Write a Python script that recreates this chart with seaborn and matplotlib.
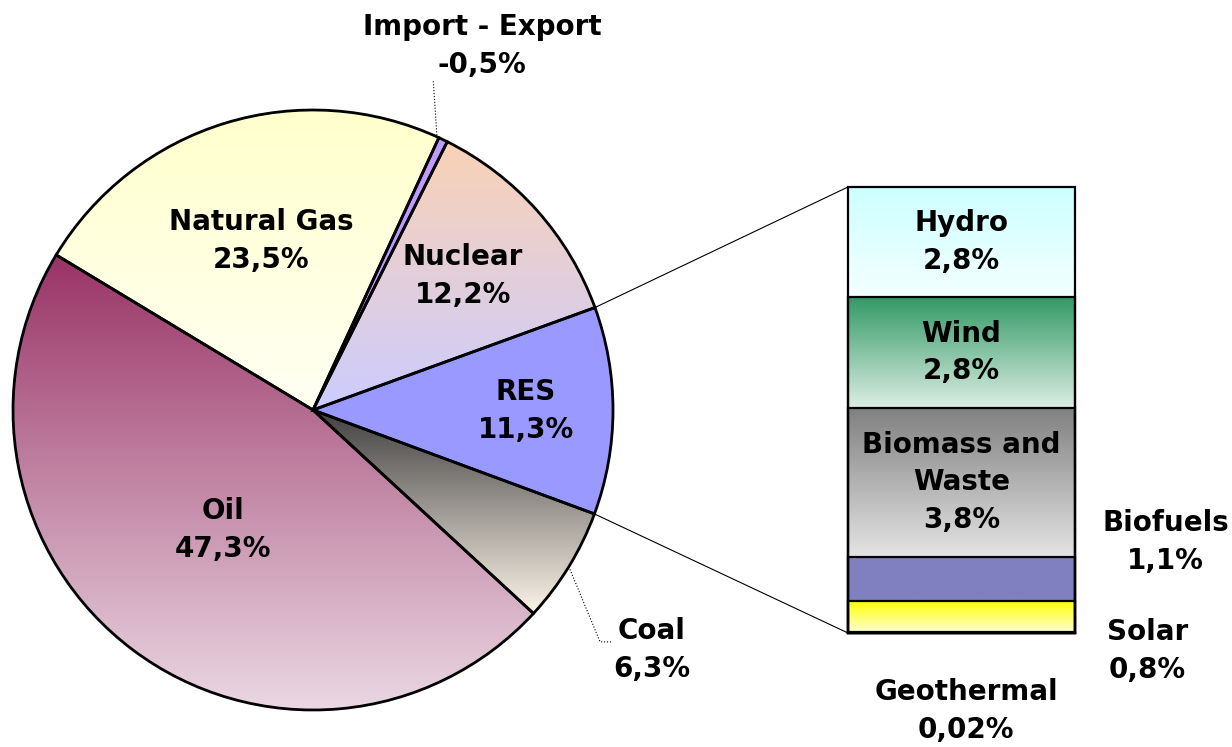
import numpy as np
import seaborn as sns
import matplotlib.pyplot as plt
from matplotlib.colors import to_rgb
from matplotlib.patches import ConnectionPatch

sns.set_theme(style="white")
plt.rcParams['font.family'] = ['DejaVu Sans']
plt.rcParams['text.color'] = 'black'

# pie data
pie_labels = ["Coal", "RES", "Nuclear", "Import - Export", "Natural Gas", "Oil"]
pie_values = [6.3, 11.3, 12.2, 0.5, 23.5, 47.3]
pie_texts = ["6,3%", "11,3%", "12,2%", "-0,5%", "23,5%", "47,3%"]
# vertical gradient (top, bottom) per slice
pie_top = ["#404040", "#9999FF", "#FAD2B5", "#C09AFF", "#FFFFCC", "#993366"]
pie_bottom = ["#FCF3E8", "#9999FF", "#CCCCFF", "#C09AFF", "#FFFFF4", "#EAD8E3"]

# RES breakdown (bottom to top)
res_labels = ["Geothermal", "Solar", "Biofuels", "Biomass and\nWaste", "Wind", "Hydro"]
res_values = [0.02, 0.8, 1.1, 3.8, 2.8, 2.8]
res_texts = ["0,02%", "0,8%", "1,1%", "3,8%", "2,8%", "2,8%"]
res_top = ["#FFFF66", "#FFFF00", "#8080C0", "#808080", "#339966", "#CCFFFF"]
res_bottom = ["#FFFFCC", "#FFFFD0", "#8080C0", "#E4E4E4", "#DCEEE4", "#F4FFFF"]


def gradient(top, bottom, n=256):
    t = np.linspace(0, 1, n)[:, None]
    img = (1 - t) * np.array(to_rgb(top)) + t * np.array(to_rgb(bottom))
    return img[:, None, :]


W, H = 1232, 747
fig = plt.figure(figsize=(W / 100, H / 100), dpi=100)

# ---- pie ----
cx, cy, r = 313, 410, 300
ax = fig.add_axes([(cx - r) / W, (H - cy - r) / H, 2 * r / W, 2 * r / H])
wedges, _ = ax.pie(pie_values, startangle=-42.7, counterclock=True,
                   wedgeprops=dict(edgecolor="black", linewidth=2.0, facecolor="none"))
for w, top, bot in zip(wedges, pie_top, pie_bottom):
    bb = w.get_path().get_extents()
    im = ax.imshow(gradient(top, bot), extent=(bb.x0, bb.x1, bb.y0, bb.y1),
                   origin="upper", aspect="auto", zorder=0.5, interpolation="bilinear")
    im.set_clip_path(w)
    w.set_zorder(2)
ax.set_xlim(-1, 1)
ax.set_ylim(-1, 1)
ax.set_aspect("equal")
ax.axis("off")

txt = dict(fontsize=20, fontweight="bold", ha="center", va="center", linespacing=1.45)
inner_r = {"RES": 0.71, "Nuclear": 0.67, "Natural Gas": 0.59, "Oil": 0.50}
for w, name, pct in zip(wedges, pie_labels, pie_texts):
    mid = np.deg2rad((w.theta1 + w.theta2) / 2)
    if name in inner_r:
        d = inner_r[name]
        ax.text(d * np.cos(mid), d * np.sin(mid), name + "\n" + pct, zorder=5, **txt)
    elif name == "Coal":
        x0, y0 = np.cos(mid), np.sin(mid)
        ax.plot([x0, 0.957, 0.997], [y0, -0.773, -0.773], ls=":", color="black",
                lw=0.8, clip_on=False)
        ax.text(1.13, -0.80, name + "\n" + pct, zorder=5, clip_on=False, **txt)
    else:
        x0, y0 = np.cos(mid), np.sin(mid)
        ax.plot([x0 - 0.02, x0 - 0.033], [y0 + 0.005, y0 + 0.2], ls=":", color="black",
                lw=0.8, clip_on=False)
        ax.text(0.563, 1.213, name + "\n" + pct, zorder=5, clip_on=False, **txt)

# ---- RES bar ----
bx0, bx1, by0, by1 = 848, 1075, 187, 633
bax = fig.add_axes([bx0 / W, (H - by1) / H, (bx1 - bx0) / W, (by1 - by0) / H])
cum = np.cumsum(res_values)
bottoms = cum - np.array(res_values)
order = np.argsort(-cum)
sns.barplot(x=["RES"] * len(cum), y=cum[order], hue=[res_labels[i] for i in order],
            hue_order=[res_labels[i] for i in order], dodge=False, width=1.0,
            palette=["white"] * len(cum), legend=False, ax=bax)
for p in bax.patches:
    p.set_facecolor("none")
    p.set_edgecolor("black")
    p.set_linewidth(1.6)
    p.set_zorder(3)
    p.set_clip_on(False)
for b, v, top, bot in zip(bottoms, res_values, res_top, res_bottom):
    bax.imshow(gradient(top, bot), extent=(-0.5, 0.5, b, b + v), origin="upper",
               aspect="auto", zorder=1, interpolation="bilinear")
bax.set_xlim(-0.5, 0.5)
bax.set_ylim(0, cum[-1])
bax.axis("off")

for name, pct, b, v in zip(res_labels, res_texts, bottoms, res_values):
    if v > 2:
        bax.text(0, b + v / 2, name + "\n" + pct, zorder=5, **txt)
bax.text(0.90, 2.31, "Biofuels\n1,1%", zorder=5, clip_on=False, **txt)
bax.text(0.82, -0.46, "Solar\n0,8%", zorder=5, clip_on=False, **txt)
bax.text(0.02, -1.98, "Geothermal\n0,02%", zorder=5, clip_on=False, **txt)

# connecting lines from RES slice to the bar
res_w = wedges[pie_labels.index("RES")]
for ang, yb in [(res_w.theta2, cum[-1]), (res_w.theta1, 0)]:
    a = np.deg2rad(ang)
    con = ConnectionPatch(xyA=(-0.5, yb), coordsA=bax.transData,
                          xyB=(np.cos(a), np.sin(a)), coordsB=ax.transData,
                          color="black", linewidth=0.8)
    fig.add_artist(con)

plt.savefig("out.png", dpi=100)
